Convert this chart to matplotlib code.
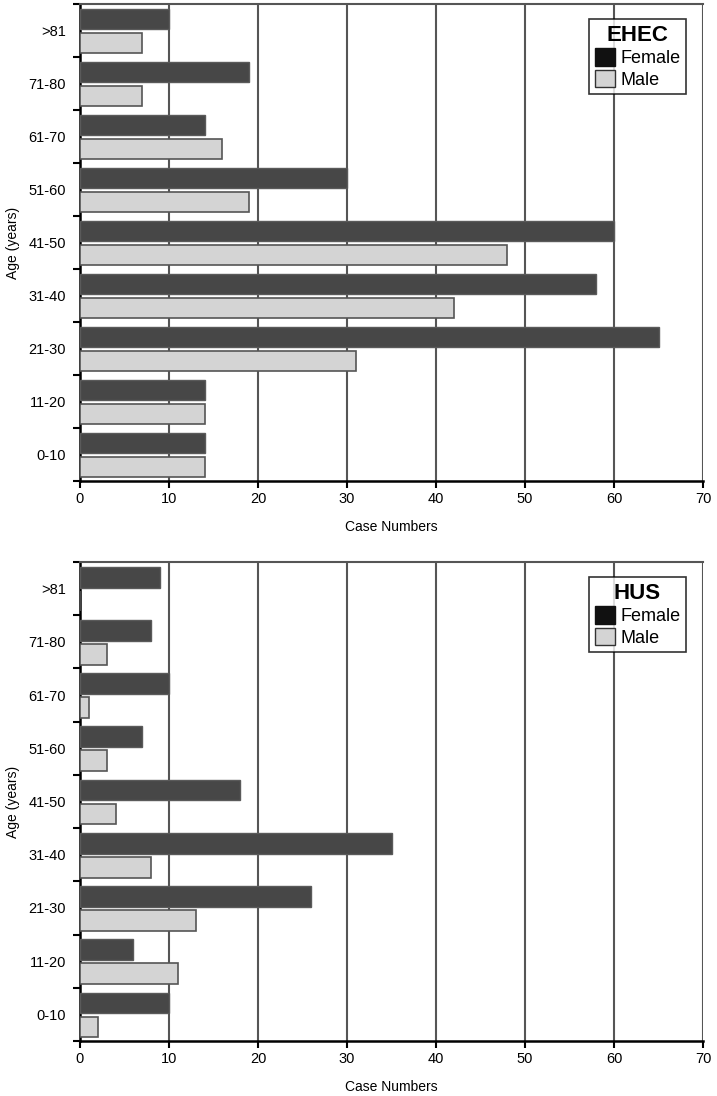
import numpy as np
import matplotlib
matplotlib.use("Agg")
from matplotlib import pyplot as plt
from matplotlib.patches import Patch

plt.rcParams["font.family"] = ["Liberation Sans", "DejaVu Sans"]

age_groups = ["0-10", "11-20", "21-30", "31-40", "41-50", "51-60", "61-70", "71-80", ">81"]

ehec_female = [14, 14, 65, 58, 60, 30, 14, 19, 10]
ehec_male = [14, 14, 31, 42, 48, 19, 16, 7, 7]

hus_female = [10, 6, 26, 35, 18, 7, 10, 8, 9]
hus_male = [2, 11, 13, 8, 4, 3, 1, 3, 0]

x_ticks = [0, 10, 20, 30, 40, 50, 60, 70]

FEMALE = "#474747"
MALE = "#d4d4d4"
EDGE = "#555555"
GRID = "#555555"


def draw_panel(ax, female, male, title):
    y = np.arange(len(age_groups))
    h = 0.39
    ax.barh(y + 0.215, female, height=h, color=FEMALE, edgecolor="#5a5a5a", linewidth=1.0, zorder=3)
    ax.barh(y - 0.235, male, height=h, color=MALE, edgecolor=EDGE, linewidth=1.2, zorder=3)

    ax.set_xlim(0, 70)
    ax.set_ylim(-0.5, len(age_groups) - 0.5)
    ax.set_xticks(x_ticks)
    ax.set_yticks(y)
    ax.set_yticklabels(age_groups)
    ax.set_yticks(np.arange(-0.5, len(age_groups)), minor=True)
    ax.tick_params(axis="y", which="major", length=0, pad=10, labelsize=10.5)
    ax.tick_params(axis="y", which="minor", length=5, width=1.5, direction="out")
    ax.tick_params(axis="x", length=5, width=1.5, direction="out", labelsize=10.5, pad=3)

    for v in x_ticks[1:]:
        ax.axvline(v, color=GRID, linewidth=1.5, zorder=1)

    ax.spines["left"].set_linewidth(1.8)
    ax.spines["bottom"].set_linewidth(1.8)
    ax.spines["top"].set_color(GRID)
    ax.spines["top"].set_linewidth(1.5)
    ax.spines["right"].set_visible(False)

    ax.set_xlabel("Case Numbers", fontsize=10, labelpad=10)
    ax.set_ylabel("Age (years)", fontsize=10, labelpad=6)

    handles = [
        Patch(facecolor="#111111", edgecolor="#111111", label="Female"),
        Patch(facecolor=MALE, edgecolor="#333333", label="Male"),
    ]
    leg = ax.legend(handles=handles, title=title, loc="upper right",
                    bbox_to_anchor=(0.972, 0.968), fontsize=13,
                    title_fontproperties={"weight": "bold", "size": 16},
                    frameon=True, fancybox=False, edgecolor="black",
                    handlelength=1.1, handleheight=1.1, handletextpad=0.3,
                    borderpad=0.3, labelspacing=0.15, borderaxespad=0)
    leg.get_frame().set_linewidth(1.2)
    leg.set_zorder(5)


fig = plt.figure(figsize=(7.17, 10.96), dpi=100)
ax1 = fig.add_axes([80 / 717, 1 - 481 / 1096, 623 / 717, 477 / 1096])
ax2 = fig.add_axes([80 / 717, 1 - 1041 / 1096, 623 / 717, 479 / 1096])

draw_panel(ax1, ehec_female, ehec_male, "EHEC")
draw_panel(ax2, hus_female, hus_male, "HUS")

fig.savefig("out.png", dpi=100)
